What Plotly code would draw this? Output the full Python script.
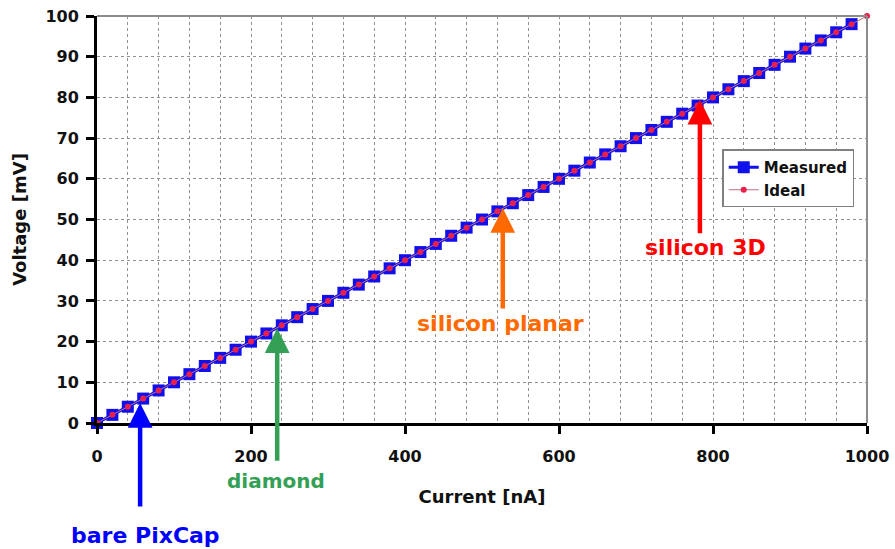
import plotly.graph_objects as go

# Measured readout: applied current [nA] vs. output voltage [mV]
current_measured = [0, 20, 40, 60, 80, 100, 120, 140, 160, 180,
                    200, 220, 240, 260, 280, 300, 320, 340, 360, 380,
                    400, 420, 440, 460, 480, 500, 520, 540, 560, 580,
                    600, 620, 640, 660, 680, 700, 720, 740, 760, 780,
                    800, 820, 840, 860, 880, 900, 920, 940, 960, 980]
voltage_measured = [0, 2, 4, 6, 8, 10, 12, 14, 16, 18,
                    20, 22, 24, 26, 28, 30, 32, 34, 36, 38,
                    40, 42, 44, 46, 48, 50, 52, 54, 56, 58,
                    60, 62, 64, 66, 68, 70, 72, 74, 76, 78,
                    80, 82, 84, 86, 88, 90, 92, 94, 96, 98]

# Ideal response (1 mV per 10 nA)
current_ideal = [0, 20, 40, 60, 80, 100, 120, 140, 160, 180,
                 200, 220, 240, 260, 280, 300, 320, 340, 360, 380,
                 400, 420, 440, 460, 480, 500, 520, 540, 560, 580,
                 600, 620, 640, 660, 680, 700, 720, 740, 760, 780,
                 800, 820, 840, 860, 880, 900, 920, 940, 960, 980, 1000]
voltage_ideal = [0, 2, 4, 6, 8, 10, 12, 14, 16, 18,
                 20, 22, 24, 26, 28, 30, 32, 34, 36, 38,
                 40, 42, 44, 46, 48, 50, 52, 54, 56, 58,
                 60, 62, 64, 66, 68, 70, 72, 74, 76, 78,
                 80, 82, 84, 86, 88, 90, 92, 94, 96, 98, 100]

# Sensor markers: label, current [nA], voltage [mV] at the arrow tip
sensor_labels = ["bare PixCap", "diamond", "silicon planar", "silicon 3D"]
sensor_current = [56, 234, 527, 783]
sensor_voltage = [4.9, 23.3, 52.8, 79.4]
sensor_colors = ["#0000ff", "#33a055", "#ff6a00", "#ff0000"]

x_ticks = [0, 200, 400, 600, 800, 1000]
y_ticks = [0, 10, 20, 30, 40, 50, 60, 70, 80, 90, 100]

FONT = "DejaVu Sans"

fig = go.Figure()

fig.add_trace(go.Scatter(
    x=current_measured, y=voltage_measured, name="Measured",
    mode="lines+markers",
    line=dict(color="#1010ee", width=3),
    marker=dict(symbol="square", size=12, color="#1010ee"),
    cliponaxis=False,
))
fig.add_trace(go.Scatter(
    x=current_ideal, y=voltage_ideal, name="Ideal",
    mode="lines+markers",
    line=dict(color="#c07080", width=1),
    marker=dict(symbol="circle", size=6, color="#e8204a"),
    cliponaxis=False,
))

# Arrow geometry in pixels: tail offset below the tip, label centre offset
arrow_len = [105, 134, 102, 135]
label_off = [132, 153, 115, 148]
label_dx = [5, -1, -2, 6]
label_size = [22, 20, 22, 22]

for lab, cx, vy, col, alen, loff, dx, fs in zip(sensor_labels, sensor_current, sensor_voltage,
                                                sensor_colors, arrow_len, label_off, label_dx,
                                                label_size):
    fig.add_annotation(
        x=cx, y=vy, xref="x", yref="y", text="",
        showarrow=True, ax=0, ay=alen,
        arrowhead=2, arrowsize=1.1, arrowwidth=4.5, arrowcolor=col,
    )
    fig.add_annotation(
        x=cx, y=vy, xref="x", yref="y", text=lab,
        showarrow=False, xshift=dx, yshift=-loff,
        font=dict(family=FONT, size=fs, color=col, weight="bold"),
    )

# Grey frame on the top and right sides
fig.add_shape(type="line", xref="paper", yref="paper", x0=0, x1=1, y0=1, y1=1,
              line=dict(color="#8c8c8c", width=2))
fig.add_shape(type="line", xref="paper", yref="paper", x0=1, x1=1, y0=0, y1=1,
              line=dict(color="#8c8c8c", width=2))

fig.update_layout(
    template="none",
    width=895, height=549,
    margin=dict(l=97, r=28, t=16, b=126, autoexpand=False),
    paper_bgcolor="white", plot_bgcolor="white",
    font=dict(family=FONT, color="#111111"),
    legend=dict(
        x=0.812, y=0.672, xanchor="left", yanchor="top",
        bgcolor="white", bordercolor="#808080", borderwidth=1.5,
        font=dict(family=FONT, size=15, color="#111111", weight="bold"),
        tracegroupgap=0, itemwidth=30,
    ),
    xaxis=dict(
        range=[0, 1000], tickvals=x_ticks, ticks="outside", ticklen=8, tickwidth=3,
        tickcolor="black", showline=True, linecolor="black", linewidth=3,
        showgrid=True, gridcolor="#909090", griddash="dot", gridwidth=1,
        minor=dict(dtick=40, tick0=0, showgrid=True, gridcolor="#909090",
                   griddash="dot", gridwidth=1, ticks=""),
        zeroline=False, ticklabelstandoff=9, automargin=False,
        tickfont=dict(family=FONT, size=16, color="#111111", weight="bold"),
        title=dict(text="Current [nA]", standoff=26,
                   font=dict(family=FONT, size=18, color="#111111", weight="bold")),
    ),
    yaxis=dict(
        range=[0, 100], tickvals=y_ticks, ticks="outside", ticklen=8, tickwidth=3,
        tickcolor="black", showline=True, linecolor="black", linewidth=3,
        showgrid=True, gridcolor="#909090", griddash="dot", gridwidth=1,
        zeroline=False, ticklabelstandoff=4, automargin=False,
        tickfont=dict(family=FONT, size=16, color="#111111", weight="bold"),
        title=dict(text="Voltage [mV]", standoff=15,
                   font=dict(family=FONT, size=18, color="#111111", weight="bold")),
    ),
)

fig.write_html("out.html")
